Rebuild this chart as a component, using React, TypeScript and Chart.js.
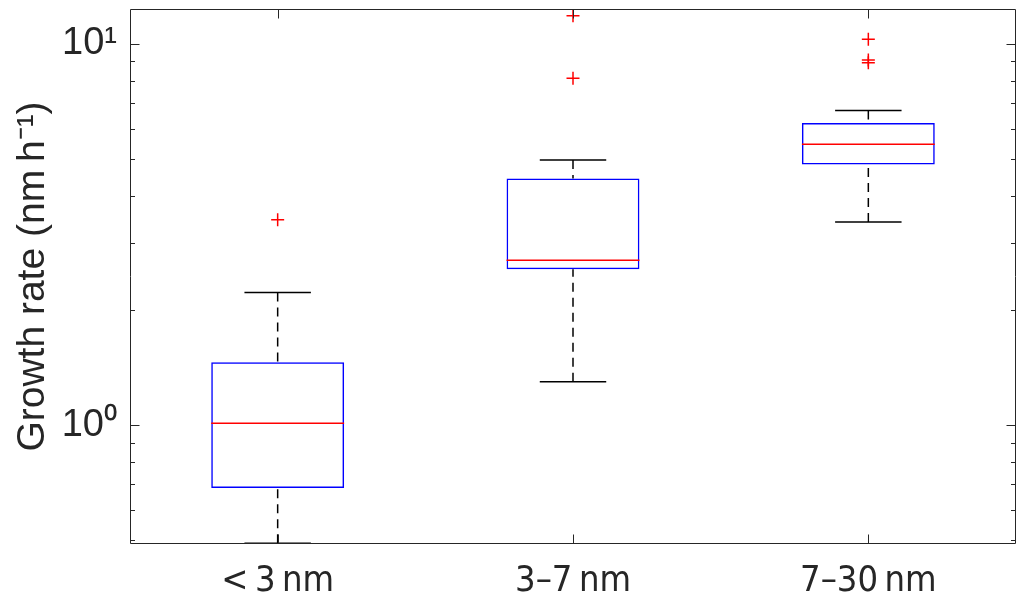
import React, { useEffect, useRef } from 'react';
import { Chart, registerables } from 'chart.js';

Chart.register(...registerables);

const categories = ['<\u20093\u2009nm', '3\u20137\u2009nm', '7\u201330\u2009nm'];
const lowerWhisker = [0.49, 1.3, 3.41];
const q1 = [0.684, 2.565, 4.83];
const medians = [1.012, 2.71, 5.46];
const q3 = [1.462, 4.44, 6.2];
const upperWhisker = [2.23, 4.96, 6.69];
const outliers = [[3.46], [11.86, 8.13], [10.29, 9.08, 8.93]];
const yMajorTicks = [1, 10];
const yMajorLabels = ['10\u2070', '10\u00b9'];
const yMinorTicks = [0.5, 0.6, 0.7, 0.8, 0.9, 2, 3, 4, 5, 6, 7, 8, 9];
const yMin = 0.488;
const yMax = 12.35;
const yTitle = 'Growth rate (nm\u2009h\u207b\u00b9)';

const AXIS = '#262626';
const BOX_FRACTION = 0.45;

const boxExtras = {
  id: 'boxExtras',
  afterDatasetsDraw(chart: any) {
    const { ctx, scales } = chart;
    const x = scales.x;
    const y = scales.y;
    const step = x.width / categories.length;
    const half = (step * BOX_FRACTION) / 2;
    const capHalf = half / 2;
    const line = (x1: number, y1: number, x2: number, y2: number) => {
      ctx.beginPath();
      ctx.moveTo(x1, y1);
      ctx.lineTo(x2, y2);
      ctx.stroke();
    };
    ctx.save();
    categories.forEach((_, i) => {
      const cx = x.getPixelForValue(i);
      const yq1 = y.getPixelForValue(q1[i]);
      const yq3 = y.getPixelForValue(q3[i]);
      const ylo = y.getPixelForValue(lowerWhisker[i]);
      const yhi = y.getPixelForValue(upperWhisker[i]);
      const ymed = y.getPixelForValue(medians[i]);
      ctx.strokeStyle = '#000000';
      ctx.lineWidth = 1.5;
      ctx.setLineDash([9, 6]);
      line(cx, yhi, cx, yq3);
      line(cx, ylo, cx, yq1);
      ctx.setLineDash([]);
      line(cx - capHalf, yhi, cx + capHalf, yhi);
      line(cx - capHalf, ylo, cx + capHalf, ylo);
      ctx.strokeStyle = '#ff0000';
      line(cx - half, ymed, cx + half, ymed);
    });
    ctx.restore();
  },
  afterDraw(chart: any) {
    const { ctx, chartArea, scales } = chart;
    const x = scales.x;
    const y = scales.y;
    const L = Math.round(chartArea.left) + 0.5;
    const R = Math.round(chartArea.right) - 0.5;
    const T = Math.round(chartArea.top) + 0.5;
    const B = Math.round(chartArea.bottom) - 0.5;
    ctx.save();
    ctx.strokeStyle = AXIS;
    ctx.lineWidth = 1;
    ctx.beginPath();
    ctx.rect(L, T, R - L, B - T);
    ctx.stroke();
    const major = 9;
    const minor = 4.5;
    ctx.beginPath();
    yMajorTicks.forEach((v) => {
      const py = Math.round(y.getPixelForValue(v)) + 0.5;
      ctx.moveTo(L, py); ctx.lineTo(L + major, py);
      ctx.moveTo(R, py); ctx.lineTo(R - major, py);
    });
    yMinorTicks.forEach((v) => {
      const py = Math.round(y.getPixelForValue(v)) + 0.5;
      ctx.moveTo(L, py); ctx.lineTo(L + minor, py);
      ctx.moveTo(R, py); ctx.lineTo(R - minor, py);
    });
    categories.forEach((_, i) => {
      const px = Math.round(x.getPixelForValue(i)) + 0.5;
      ctx.moveTo(px, B); ctx.lineTo(px, B - major);
      ctx.moveTo(px, T); ctx.lineTo(px, T + major);
    });
    ctx.stroke();
    ctx.restore();
  },
};

export default function App() {
  const canvasRef = useRef<HTMLCanvasElement | null>(null);

  useEffect(() => {
    document.body.style.margin = '0';
    const canvas = canvasRef.current;
    if (!canvas) return;
    const outlierPoints: { x: string; y: number }[] = [];
    outliers.forEach((list, i) => list.forEach((v) => outlierPoints.push({ x: categories[i], y: v })));

    const chart = new Chart(canvas, {
      type: 'bar',
      data: {
        labels: categories,
        datasets: [
          {
            type: 'scatter',
            data: outlierPoints as any,
            pointStyle: 'cross',
            pointRadius: 6.5,
            pointHoverRadius: 6.5,
            borderColor: '#ff0000',
            backgroundColor: '#ff0000',
            borderWidth: 1.5,
          } as any,
          {
            type: 'bar',
            data: categories.map((_, i) => [q1[i], q3[i]]) as any,
            backgroundColor: 'rgba(0,0,0,0)',
            borderColor: '#0000ff',
            borderWidth: 1.5,
            borderSkipped: false,
            barPercentage: BOX_FRACTION,
            categoryPercentage: 1,
          } as any,
        ],
      },
      options: {
        animation: false,
        responsive: true,
        maintainAspectRatio: false,
        layout: { padding: { top: 9, right: 10, left: 0, bottom: 0 } },
        plugins: { legend: { display: false }, tooltip: { enabled: false } },
        scales: {
          x: {
            type: 'category',
            offset: true,
            grid: { display: false, drawTicks: false },
            border: { display: false },
            ticks: {
              color: AXIS,
              padding: 16,
              maxRotation: 0,
              autoSkip: false,
              font: { family: "'DejaVu Sans'", size: 36, style: 'normal', weight: 'normal condensed' },
            },
            afterFit: (s: any) => { s.height = 59; s.paddingLeft = 0; s.paddingRight = 0; },
          },
          y: {
            type: 'logarithmic',
            min: yMin,
            max: yMax,
            grid: { display: false, drawTicks: false },
            border: { display: false },
            afterBuildTicks: (s: any) => { s.ticks = yMajorTicks.map((v) => ({ value: v })); },
            ticks: {
              color: AXIS,
              padding: 13,
              autoSkip: false,
              font: { family: "'Liberation Sans', Arial, sans-serif", size: 38 },
              callback: (v: any) => {
                const idx = yMajorTicks.indexOf(Number(v));
                return idx >= 0 ? yMajorLabels[idx] : '';
              },
            },
            title: {
              display: true,
              text: yTitle,
              color: AXIS,
              padding: { top: 10, bottom: 0 },
              font: { family: "'Liberation Sans', Arial, sans-serif", size: 39 },
            },
            afterFit: (s: any) => { s.width = 130; s.paddingTop = 0; s.paddingBottom = 0; },
          },
        },
      } as any,
      plugins: [boxExtras],
    });
    return () => chart.destroy();
  }, []);

  return (
    <div style={{ width: '1026px', height: '603px', position: 'relative' }}>
      <canvas ref={canvasRef} />
    </div>
  );
}
